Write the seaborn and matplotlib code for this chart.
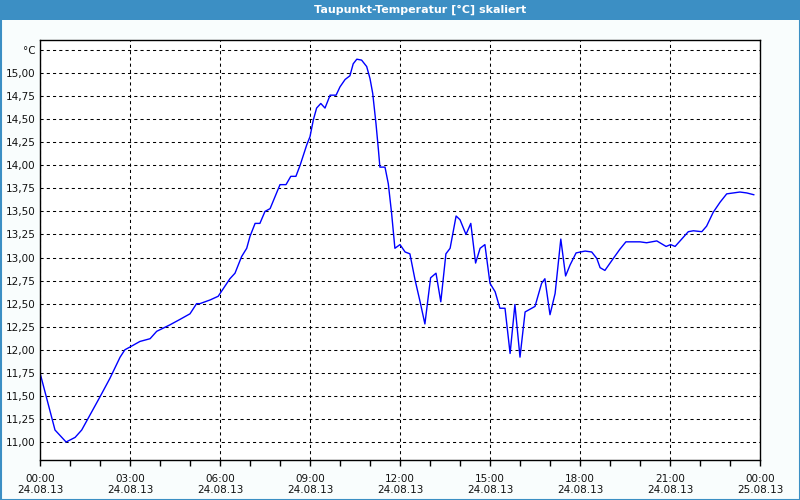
import matplotlib
matplotlib.use("Agg")
import matplotlib.pyplot as plt
import seaborn as sns
import pandas as pd
from matplotlib.patches import Rectangle

# ---- data (hours since 24.08.13 00:00, dew point °C) ----
hours = [0.0, 0.5, 0.87, 1.17, 1.39, 2.0, 2.33, 2.67, 2.83, 3.0, 3.33, 3.67, 3.89,
         4.33, 4.67, 5.0, 5.22, 5.33, 5.67, 5.94, 6.33, 6.5, 6.72, 6.89, 7.0, 7.17,
         7.33, 7.5, 7.67, 8.0, 8.2, 8.36, 8.53, 8.67, 8.89, 9.0, 9.11, 9.22, 9.36,
         9.5, 9.67, 9.87, 10.0, 10.17, 10.33, 10.44, 10.56, 10.72, 10.89, 11.0,
         11.09, 11.2, 11.28, 11.33, 11.5, 11.61, 11.72, 11.83, 12.0, 12.17, 12.33,
         12.5, 12.67, 12.83, 13.02, 13.2, 13.36, 13.53, 13.67, 13.87, 14.0, 14.2,
         14.36, 14.52, 14.67, 14.83, 15.0, 15.17, 15.33, 15.5, 15.67, 15.83, 16.0,
         16.17, 16.5, 16.72, 16.83, 17.0, 17.17, 17.36, 17.52, 17.67, 17.87, 18.17,
         18.39, 18.56, 18.67, 18.83, 19.11, 19.33, 19.53, 20.0, 20.22, 20.56, 20.87,
         21.02, 21.17, 21.39, 21.61, 21.78, 22.06, 22.22, 22.44, 22.67, 22.89, 23.33,
         23.56, 23.8]
dewpoint = [11.75, 11.13, 11.0, 11.05, 11.13, 11.49, 11.69, 11.92, 12.0, 12.03, 12.09,
            12.12, 12.2, 12.27, 12.33, 12.39, 12.5, 12.5, 12.54, 12.58, 12.77, 12.83,
            13.01, 13.1, 13.23, 13.37, 13.37, 13.5, 13.53, 13.79, 13.79, 13.88, 13.88,
            14.0, 14.22, 14.31, 14.49, 14.62, 14.67, 14.62, 14.76, 14.76, 14.85, 14.93,
            14.97, 15.1, 15.15, 15.14, 15.07, 14.94, 14.78, 14.45, 14.17, 13.98, 13.98,
            13.8, 13.48, 13.1, 13.14, 13.06, 13.04, 12.76, 12.52, 12.28, 12.78, 12.83,
            12.52, 13.04, 13.1, 13.45, 13.41, 13.25, 13.37, 12.94, 13.1, 13.14, 12.72,
            12.63, 12.45, 12.45, 11.96, 12.49, 11.92, 12.41, 12.47, 12.72, 12.77, 12.38,
            12.61, 13.2, 12.8, 12.92, 13.05, 13.07, 13.06, 12.99, 12.89, 12.86, 12.99,
            13.09, 13.17, 13.17, 13.16, 13.18, 13.12, 13.14, 13.12, 13.2, 13.28, 13.29,
            13.28, 13.34, 13.49, 13.6, 13.69, 13.71, 13.70, 13.68]

x_ticks = [0, 3, 6, 9, 12, 15, 18, 21, 24]
x_labels = ["00:00\n24.08.13", "03:00\n24.08.13", "06:00\n24.08.13", "09:00\n24.08.13",
            "12:00\n24.08.13", "15:00\n24.08.13", "18:00\n24.08.13", "21:00\n24.08.13",
            "00:00\n25.08.13"]
y_ticks = [11.0, 11.25, 11.5, 11.75, 12.0, 12.25, 12.5, 12.75, 13.0, 13.25, 13.5,
           13.75, 14.0, 14.25, 14.5, 14.75, 15.0, 15.25]
y_labels = ["11,00", "11,25", "11,50", "11,75", "12,00", "12,25", "12,50", "12,75",
            "13,00", "13,25", "13,50", "13,75", "14,00", "14,25", "14,50", "14,75",
            "15,00", "°C"]
title = "Taupunkt-Temperatur [°C] skaliert"

df = pd.DataFrame({"h": hours, "v": dewpoint})

sns.set_theme(style="white")
plt.rcParams["font.family"] = ["DejaVu Sans"]

bg = "#f9fdfd"
blue = "#3c8fc4"
fig = plt.figure(figsize=(8, 5), dpi=100, facecolor=bg)
ax = fig.add_axes([40 / 800, 40 / 500, 720 / 800, 420 / 500])
ax.set_facecolor("white")

sns.lineplot(data=df, x="h", y="v", ax=ax, color="#0000ff", linewidth=1.0)

ax.set_xlim(0, 24)
ax.set_ylim(10.805, 15.358)
ax.set_xticks(x_ticks)
ax.set_xticklabels(x_labels, fontsize=7.5, color="#111111")
ax.set_xticks(range(0, 25), minor=True)
ax.set_yticks(y_ticks)
ax.set_yticklabels(y_labels, fontsize=7.5, color="#111111")
ax.set_xlabel("")
ax.set_ylabel("")

ax.tick_params(axis="x", which="both", direction="out", length=4, width=1,
               color="black", pad=6, bottom=True)
ax.tick_params(axis="y", which="both", length=0, pad=3)

ax.grid(True, which="major", color="black", linestyle=(0, (3, 3)), linewidth=0.75)
for s in ax.spines.values():
    s.set_color("black")
    s.set_linewidth(1.0)

# title bar and window border
fig.patches.append(Rectangle((0, 480 / 500), 1, 20 / 500, transform=fig.transFigure,
                             facecolor=blue, edgecolor="none", zorder=0))
fig.patches.append(Rectangle((0.5 / 800, 0.5 / 500), 799 / 800, 499 / 500,
                             transform=fig.transFigure, facecolor="none",
                             edgecolor=blue, linewidth=1.5, zorder=1))
fig.text(420 / 800, 490 / 500, title, ha="center", va="center", color="white",
         fontsize=8, fontweight="bold")

fig.savefig("out.png", dpi=100, facecolor=bg)
